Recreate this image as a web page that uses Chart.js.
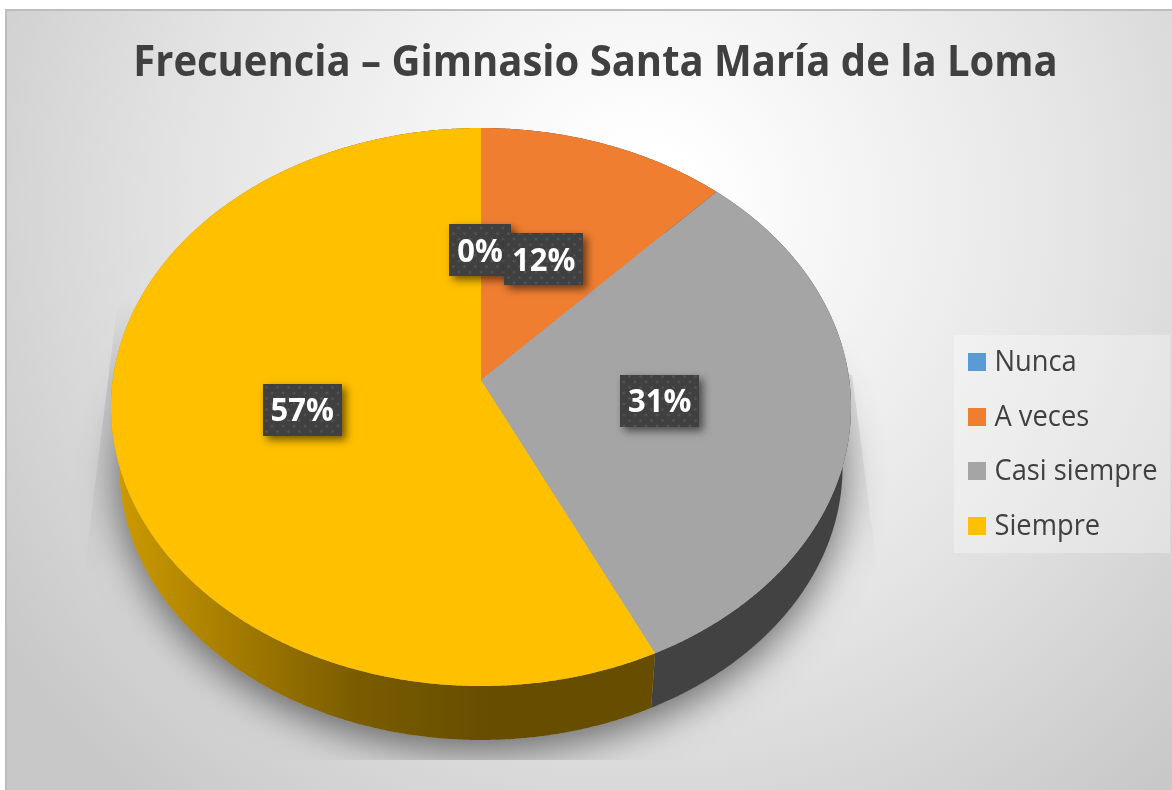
<!DOCTYPE html>
<html><head><meta charset="utf-8">
<style>html,body{margin:0;padding:0;background:#fff}canvas{display:block}</style>
<script src="https://cdn.jsdelivr.net/npm/chart.js@4"></script>
</head><body><canvas id="c" width="1172" height="790"></canvas>
<script>
const titleText = 'Frecuencia – Gimnasio Santa María de la Loma';
const categories = ['Nunca', 'A veces', 'Casi siempre', 'Siempre'];
const percentages = [0, 12, 30.9, 57.1];
const sliceColors = ['#5B9BD5', '#EF7E31', '#A5A5A5', '#FFC000'];
const FONT = '"Open Sans"';
const INK = '#404040';

// Perspective of the tilted disc: maps (angle, radius) on the disc to page pixels.
const view = {cx: 481, cy: 380, b: 368.3, a: 276.4, k: 0.0968};
const floor = {cy: 441, s: 0.977};
function project(theta, r, bottom) {
  const X = r * Math.sin(theta), Y = r * Math.cos(theta), w = 1 + view.k * Y;
  const s = bottom ? floor.s : 1, cy = bottom ? floor.cy : view.cy;
  return [view.cx + s * view.b * X / w, cy - s * view.a * Y / w];
}
function rimTo(ctx, t0, t1, bottom) {
  const n = Math.max(2, Math.ceil(Math.abs(t1 - t0) / 0.005));
  for (let i = 0; i <= n; i++) {
    const p = project(t0 + (t1 - t0) * i / n, 1, bottom);
    ctx.lineTo(p[0], p[1]);
  }
}
function ringPath(ctx, bottom) {
  ctx.beginPath();
  rimTo(ctx, 0, Math.PI * 2, bottom);
  ctx.closePath();
}
function dotPattern(ctx) {
  const c = document.createElement('canvas');
  c.width = c.height = 11;
  const g = c.getContext('2d');
  g.fillStyle = '#404040'; g.fillRect(0, 0, 11, 11);
  g.fillStyle = '#515151';
  [[2.5, 2.5], [8, 8]].forEach(d => { g.beginPath(); g.arc(d[0], d[1], 1.5, 0, 7); g.fill(); });
  return ctx.createPattern(c, 'repeat');
}
function tallText(ctx, text, x, y, stretch) {
  ctx.save();
  ctx.translate(x, y);
  ctx.scale(1, stretch);
  ctx.fillText(text, 0, 0);
  ctx.restore();
}

const scene = {
  id: 'scene',
  afterLayout(chart) {
    const tb = chart.titleBlock, ctx = chart.ctx;
    if (tb._tall) return;
    const draw = tb.draw;
    tb._tall = true;
    tb.draw = function () {
      ctx.save();
      ctx.translate(0, 76); ctx.scale(1, 1.08); ctx.translate(0, -76);
      draw.call(this);
      ctx.restore();
    };
  },
  beforeDraw(chart) {
    const ctx = chart.ctx;
    ctx.save();
    // panel
    const bg = ctx.createRadialGradient(640, 210, 60, 640, 210, 770);
    bg.addColorStop(0, '#ffffff');
    bg.addColorStop(0.55, '#e4e4e4');
    bg.addColorStop(1, '#c8c8c8');
    ctx.fillStyle = bg;
    ctx.fillRect(6, 10, 1166, 780);
    ctx.fillStyle = '#bdbdbd';
    ctx.fillRect(6, 9, 1166, 2);
    ctx.fillRect(5, 9, 2, 781);
    // soft trapezoid behind the disc
    const tr = ctx.createLinearGradient(0, 300, 0, 575);
    tr.addColorStop(0, 'rgba(0,0,0,0)');
    tr.addColorStop(0.3, 'rgba(0,0,0,0.10)');
    tr.addColorStop(1, 'rgba(0,0,0,0)');
    ctx.fillStyle = tr;
    ctx.beginPath();
    ctx.moveTo(118, 300); ctx.lineTo(84, 575); ctx.lineTo(878, 575); ctx.lineTo(852, 375);
    ctx.closePath(); ctx.fill();
    // cast shadow
    ctx.beginPath(); ctx.rect(6, 10, 1166, 750); ctx.clip();
    ctx.shadowColor = 'rgba(0,0,0,0.52)';
    ctx.shadowBlur = 38;
    ctx.shadowOffsetY = 12;
    ctx.fillStyle = '#a6a6a6';
    ringPath(ctx, true); ctx.fill();
    ctx.restore();
  },
  beforeDatasetDraw(chart, args) {
    const ctx = chart.ctx, arcs = chart.getDatasetMeta(args.index).data;
    const turn = a => a + Math.PI / 2;
    ctx.save();
    // side wall
    arcs.forEach((arc, i) => {
      const p = arc.getProps(['startAngle', 'endAngle']);
      const t0 = turn(p.startAngle), t1 = turn(p.endAngle);
      if (t1 - t0 < 1e-6) return;
      let fill = '#424242';
      if (i === 3) {
        fill = ctx.createLinearGradient(118, 0, 651, 0);
        fill.addColorStop(0, '#cc9a00');
        fill.addColorStop(0.45, '#7a5c00');
        fill.addColorStop(0.7, '#664d00');
        fill.addColorStop(1, '#664d00');
      }
      ctx.fillStyle = fill;
      ctx.beginPath();
      rimTo(ctx, t0, t1, false);
      rimTo(ctx, t1, t0, true);
      ctx.closePath(); ctx.fill();
    });
    // top face
    arcs.forEach(arc => {
      const p = arc.getProps(['startAngle', 'endAngle']);
      const t0 = turn(p.startAngle), t1 = turn(p.endAngle);
      if (t1 - t0 < 1e-6) return;
      ctx.fillStyle = arc.options.backgroundColor;
      ctx.beginPath();
      ctx.moveTo(view.cx, view.cy);
      rimTo(ctx, t0, t1, false);
      ctx.closePath(); ctx.fill();
    });
    ctx.restore();
    return false;
  },
  afterDraw(chart) {
    const ctx = chart.ctx, arcs = chart.getDatasetMeta(0).data;
    const pattern = dotPattern(ctx);
    ctx.save();
    // data labels
    ctx.textAlign = 'center'; ctx.textBaseline = 'middle';
    ctx.font = '700 31px ' + FONT;
    arcs.forEach((arc, i) => {
      const p = arc.getProps(['startAngle', 'endAngle']);
      const mid = (p.startAngle + p.endAngle) / 2 + Math.PI / 2;
      const c = project(mid, 0.49, false);
      const label = Math.round(percentages[i]) + '%';
      const w = Math.round(ctx.measureText(label).width + 16), h = 52;
      const x = Math.round(c[0] - w / 2) - 1, y = Math.round(c[1] - h / 2) - (i === 0 ? 1 : 0);
      ctx.save();
      ctx.shadowColor = 'rgba(0,0,0,0.55)'; ctx.shadowBlur = 8;
      ctx.shadowOffsetX = 4; ctx.shadowOffsetY = 4;
      ctx.fillStyle = '#404040'; ctx.fillRect(x, y, w, h);
      ctx.restore();
      ctx.fillStyle = pattern; ctx.fillRect(x, y, w, h);
      ctx.fillStyle = '#ffffff';
      tallText(ctx, label, c[0] - 1, c[1] + 2, 1.04);
    });
    // legend
    ctx.fillStyle = 'rgba(255,255,255,0.30)';
    ctx.fillRect(954, 335, 216, 218);
    ctx.textAlign = 'left';
    ctx.font = '400 27.3px ' + FONT;
    categories.forEach((name, i) => {
      const y = 362 + i * 54.7;
      ctx.fillStyle = sliceColors[i];
      ctx.fillRect(968, Math.round(y - 9), 18, 18);
      ctx.fillStyle = INK;
      tallText(ctx, name, 994.5, y + 1, 1.04);
    });
    ctx.restore();
  }
};

new Chart(document.getElementById('c'), {
  type: 'pie',
  plugins: [scene],
  data: {
    labels: categories,
    datasets: [{data: percentages, backgroundColor: sliceColors, borderWidth: 0}]
  },
  options: {
    responsive: false,
    animation: false,
    layout: {padding: {left: 19}},
    plugins: {
      legend: {display: false},
      tooltip: {enabled: false},
      title: {
        display: true, text: titleText, color: INK,
        font: {family: FONT, size: 40, weight: '700'},
        padding: {top: 41, bottom: 10}
      }
    }
  }
});
</script></body></html>
